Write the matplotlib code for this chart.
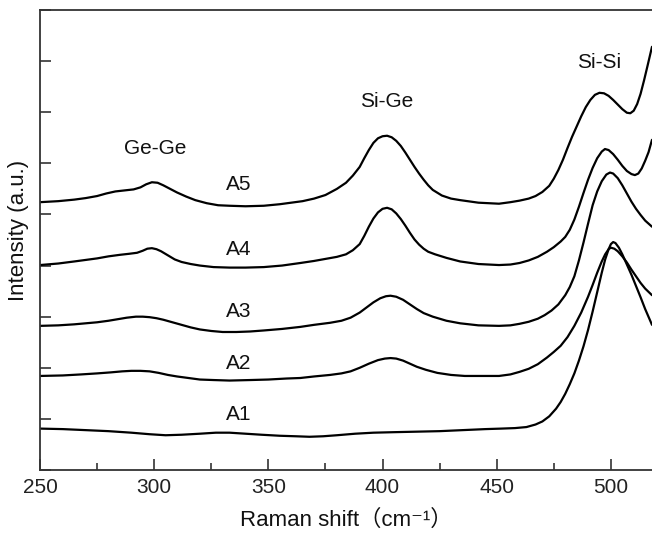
import matplotlib
matplotlib.use("Agg")
import matplotlib.pyplot as plt
from matplotlib.ticker import MultipleLocator

plt.rcParams["font.family"] = ["Liberation Sans", "DejaVu Sans", "Noto Sans CJK SC"]

# Raman spectra (x in cm^-1, y in stacked arbitrary units)
a1_x = [250, 260, 270, 280, 290, 298, 305, 312, 320, 327, 333, 340, 347, 355, 362, 368, 374,
        380, 388, 396, 405, 415, 425, 435, 445, 452, 458, 463, 467, 470, 473, 476, 478, 480,
        482, 484, 486, 488, 490, 492, 494, 496, 497.5, 499, 500, 501, 502, 503.5, 505, 507,
        509, 511, 513, 515, 518]
a1_y = [0.81, 0.80, 0.78, 0.76, 0.73, 0.70, 0.68, 0.69, 0.71, 0.73, 0.73, 0.71, 0.69, 0.67,
        0.66, 0.65, 0.66, 0.68, 0.71, 0.73, 0.74, 0.75, 0.76, 0.78, 0.80, 0.81, 0.82, 0.84,
        0.89, 0.95, 1.05, 1.20, 1.33, 1.49, 1.68, 1.89, 2.14, 2.42, 2.74, 3.10, 3.48, 3.86,
        4.12, 4.32, 4.42, 4.46, 4.44, 4.35, 4.22, 4.02, 3.82, 3.60, 3.38, 3.15, 2.84]

a2_x = [250, 260, 268, 275, 281, 286, 290, 294, 298, 302, 306, 310, 315, 320, 326, 333, 342,
        350, 358, 364, 370, 377, 382, 386, 390, 394, 398, 401, 403.5, 406, 409, 412, 415, 419,
        424, 430, 436, 445, 451, 456, 460, 464, 468, 472, 475, 478, 481, 484, 487, 490, 492,
        494, 496, 497.5, 499, 500, 501.5, 503, 505, 507, 509, 511, 513, 515, 518]
a2_y = [1.84, 1.85, 1.87, 1.89, 1.91, 1.93, 1.94, 1.94, 1.93, 1.90, 1.86, 1.83, 1.80, 1.77,
        1.76, 1.75, 1.76, 1.77, 1.79, 1.80, 1.83, 1.86, 1.89, 1.93, 2.00, 2.08, 2.15, 2.18,
        2.19, 2.18, 2.14, 2.08, 2.02, 1.96, 1.90, 1.86, 1.84, 1.84, 1.84, 1.87, 1.92, 1.98,
        2.07, 2.20, 2.31, 2.43, 2.60, 2.82, 3.08, 3.39, 3.62, 3.86, 4.08, 4.22, 4.32, 4.35,
        4.33, 4.28, 4.18, 4.06, 3.92, 3.79, 3.66, 3.55, 3.42]

a3_x = [250, 258, 265, 270, 275, 280, 284, 288, 292, 295, 298, 301, 304, 308, 312, 316, 320,
        325, 330, 336, 342, 348, 356, 364, 370, 377, 382, 386, 390, 393, 396, 399, 401.5,
        403.5, 406, 409, 412, 415, 418, 422, 428, 434, 442, 451, 456, 460, 464, 468, 471, 474,
        477, 480, 482, 484, 486, 488, 490, 492, 494, 496, 498, 499.6, 501, 503, 505, 507, 509,
        511, 513, 515, 518]
a3_y = [2.82, 2.83, 2.85, 2.87, 2.89, 2.92, 2.95, 2.98, 3.00, 3.00, 2.99, 2.97, 2.94, 2.89,
        2.84, 2.79, 2.75, 2.72, 2.70, 2.70, 2.71, 2.73, 2.76, 2.80, 2.84, 2.88, 2.92, 2.98,
        3.08, 3.18, 3.28, 3.36, 3.40, 3.41, 3.39, 3.33, 3.24, 3.15, 3.07, 3.00, 2.92, 2.87,
        2.83, 2.82, 2.83, 2.86, 2.90, 2.96, 3.03, 3.12, 3.24, 3.42, 3.58, 3.79, 4.10, 4.45,
        4.82, 5.18, 5.45, 5.65, 5.78, 5.82, 5.80, 5.71, 5.57, 5.41, 5.25, 5.11, 4.99, 4.88,
        4.76]

a4_x = [250, 258, 265, 270, 275, 280, 285, 289, 292.5, 295, 297, 299, 301, 303, 306, 309, 312,
        316, 320, 326, 333, 340, 348, 356, 364, 370, 375, 380, 384, 387, 390, 392, 394, 396,
        398, 400, 402, 404, 406, 408, 410, 412, 414, 416, 418, 420, 423, 428, 434, 442, 451,
        456, 460, 464, 468, 472, 475, 478, 480, 482, 484, 486, 488, 490, 492, 494, 496, 497.4,
        499, 501, 503, 505, 507, 509, 510.5, 512, 513.5, 515, 516.5, 518]
a4_y = [4.01, 4.04, 4.08, 4.11, 4.14, 4.18, 4.21, 4.23, 4.25, 4.29, 4.33, 4.34, 4.32, 4.28,
        4.20, 4.12, 4.07, 4.03, 4.00, 3.97, 3.96, 3.96, 3.97, 4.00, 4.05, 4.09, 4.13, 4.17,
        4.22, 4.30, 4.42, 4.58, 4.76, 4.92, 5.04, 5.11, 5.13, 5.10, 5.02, 4.91, 4.78, 4.64,
        4.51, 4.41, 4.33, 4.27, 4.22, 4.15, 4.08, 4.03, 4.01, 4.02, 4.05, 4.10, 4.17, 4.27,
        4.36, 4.47, 4.56, 4.70, 4.90, 5.15, 5.42, 5.68, 5.91, 6.10, 6.23, 6.28, 6.26, 6.18,
        6.07, 5.95, 5.85, 5.79, 5.77, 5.80, 5.90, 6.05, 6.22, 6.46]

a5_x = [250, 258, 265, 270, 275, 279, 283, 287, 291, 294, 296.5, 299, 301.5, 304, 307, 310,
        314, 318, 323, 328, 333, 340, 348, 355, 360, 365, 370, 375, 380, 384, 387, 390, 392,
        394, 396, 398, 400, 402, 404, 406, 408, 410, 412, 414, 416, 418, 420, 422, 426, 430,
        434, 442, 451, 456, 460, 464, 467, 470, 473, 475, 477, 479, 481, 483, 485, 487, 489,
        491, 493, 495, 497, 499, 501, 503, 505, 507, 508.5, 510, 511.5, 513, 514.5, 516, 518]
a5_y = [5.24, 5.26, 5.29, 5.32, 5.36, 5.41, 5.45, 5.47, 5.49, 5.53, 5.59, 5.63, 5.62, 5.57,
        5.50, 5.43, 5.35, 5.28, 5.22, 5.18, 5.17, 5.16, 5.17, 5.20, 5.23, 5.26, 5.31, 5.38,
        5.50, 5.62, 5.76, 5.93, 6.10, 6.26, 6.40, 6.49, 6.53, 6.54, 6.51, 6.44, 6.34, 6.21,
        6.07, 5.93, 5.80, 5.68, 5.57, 5.48, 5.37, 5.31, 5.28, 5.23, 5.21, 5.24, 5.27, 5.31,
        5.36, 5.44, 5.56, 5.70, 5.87, 6.07, 6.30, 6.52, 6.72, 6.92, 7.10, 7.24, 7.34, 7.38,
        7.37, 7.32, 7.24, 7.15, 7.06, 6.99, 6.98, 7.03, 7.16, 7.36, 7.62, 7.90, 8.28]

sample_names = ["A1", "A2", "A3", "A4", "A5"]
sample_label_x = [336.8, 336.8, 336.8, 336.8, 336.8]
sample_label_y = [1.08, 2.09, 3.10, 4.31, 5.58]

band_names = ["Ge-Ge", "Si-Ge", "Si-Si"]
band_x = [300.6, 402, 495]
band_y = [6.30, 7.21, 7.98]

fig = plt.figure(figsize=(6.52, 5.36), dpi=100)
ax = fig.add_axes((40 / 652, 1 - 470 / 536, 612 / 652, 460 / 536))

spectra = [(a1_x, a1_y), (a2_x, a2_y), (a3_x, a3_y), (a4_x, a4_y), (a5_x, a5_y)]
for xs, ys in spectra:
    ax.plot(xs, ys, color="black", lw=1.6, solid_joinstyle="round", solid_capstyle="round")

for name, x, y in zip(sample_names, sample_label_x, sample_label_y):
    ax.text(x, y, name, ha="center", va="center", fontsize=15, color="#111111")

for name, x, y in zip(band_names, band_x, band_y):
    ax.text(x, y, name, ha="center", va="center", fontsize=15, color="#111111")

ax.set_xlim(250, 518)
ax.set_ylim(0, 9)
ax.xaxis.set_major_locator(MultipleLocator(50))
ax.xaxis.set_minor_locator(MultipleLocator(25))
ax.yaxis.set_major_locator(MultipleLocator(1))
ax.tick_params(axis="both", which="major", direction="in", length=8, width=1.1,
               labelsize=15, colors="#222222")
ax.tick_params(axis="x", which="minor", direction="in", length=5, width=1.1, colors="#222222")
ax.tick_params(axis="y", labelleft=False)
ax.tick_params(axis="x", pad=6)

for side in ["left", "bottom", "top"]:
    ax.spines[side].set_linewidth(1.3)
    ax.spines[side].set_color("#333333")
ax.spines["right"].set_visible(False)

ax.set_xlabel("Raman shift（cm⁻¹）", fontsize=16, labelpad=9, color="#111111")
ax.set_ylabel("Intensity (a.u.)", fontsize=16, color="#111111")
ax.yaxis.set_label_coords(-0.018, 0.52)

fig.savefig("out.png", dpi=100)
